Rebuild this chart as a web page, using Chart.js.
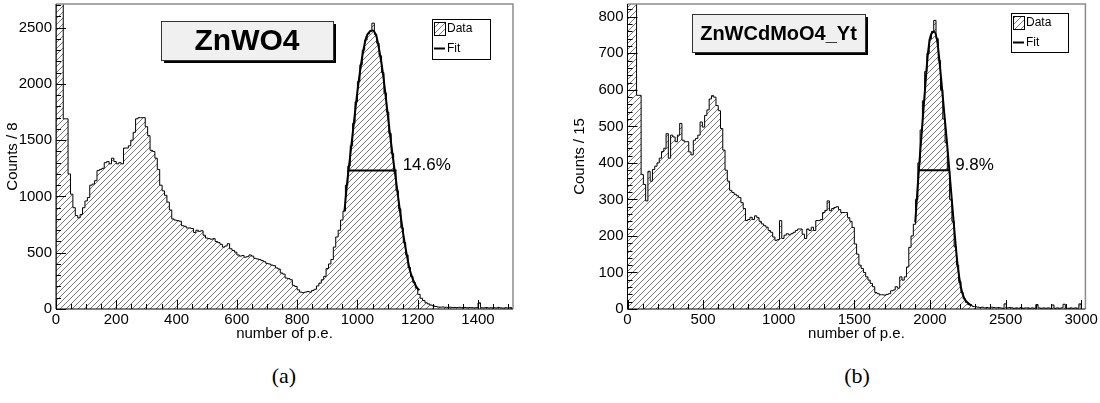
<!DOCTYPE html>
<html>
<head>
<meta charset="utf-8">
<script src="https://cdn.jsdelivr.net/npm/chart.js@4.4.1/dist/chart.umd.min.js"></script>
<style>
  html, body { margin: 0; padding: 0; background: #fff; }
  body { width: 1100px; height: 403px; position: relative; overflow: hidden; }
  canvas { position: absolute; }
  #chartA { left: 0; top: -9px; }
  #chartB { left: 560px; top: -9px; }
  .sub { position: absolute; top: 364px; width: 100px; text-align: center;
         font: 22px "Liberation Serif", "Times New Roman", serif; line-height: 24px; }
</style>
</head>
<body>
<canvas id="chartA" width="540" height="354"></canvas>
<canvas id="chartB" width="540" height="354"></canvas>
<div class="sub" style="left:234px">(a)</div>
<div class="sub" style="left:807px">(b)</div>
<script>
// ZnWO4 : counts per 8 p.e.
const binWidthA = 8;
const countsA = [
  9000, 4500, 3000, 1690, 1690, 1200, 1020, 900, 830, 810,
  840, 900, 960, 990, 1100, 1110, 1140, 1230, 1240, 1250,
  1300, 1310, 1290, 1340, 1310, 1290, 1300, 1290, 1430, 1430,
  1450, 1500, 1570, 1690, 1700, 1700, 1700, 1620, 1540, 1410,
  1400, 1340, 1240, 1100, 1050, 1010, 950, 880, 800, 790,
  785, 780, 740, 735, 720, 720, 715, 680, 700, 690,
  695, 655, 630, 625, 620, 625, 600, 590, 575, 550,
  560, 580, 535, 520, 505, 480, 470, 475, 460, 465,
  480, 470, 450, 445, 440, 430, 420, 405, 400, 390,
  385, 365, 355, 320, 310, 275, 270, 260, 210, 200,
  170, 150, 145, 150, 155, 150, 165, 175, 205, 230,
  260, 290, 360, 400, 440, 550, 640, 700, 790, 870,
  1100, 1270, 1450, 1650, 1840, 2020, 2170, 2300, 2390, 2445,
  2470, 2540, 2440, 2360, 2250, 2100, 1920, 1750, 1560, 1380,
  1220, 1050, 890, 720, 590, 480, 370, 290, 235, 185,
  130, 95, 75, 55, 45, 35, 28, 22, 18, 16,
  18, 15, 14, 16, 12, 14, 13, 15, 12, 14,
  11, 13, 12, 10, 12, 55, 11, 10, 13, 9,
  11, 12, 9, 14, 10, 8, 11, 9, 12
];
const fitXA = [957, 964, 975, 986, 997, 1008, 1019, 1030, 1041, 1050, 1063, 1074, 1085, 1096, 1107, 1118, 1129, 1141, 1152, 1163, 1174, 1185, 1195, 1205];
const fitYA = [870, 1076, 1339, 1602, 1866, 2100, 2290, 2421, 2465, 2474, 2421, 2275, 2085, 1836, 1573, 1339, 1120, 871, 666, 490, 344, 256, 200, 165];
const fwhmXA = [972, 1130];
const fwhmYA = 1231;
const xTicksA = [0, 200, 400, 600, 800, 1000, 1200, 1400];
const yTicksA = [0, 500, 1000, 1500, 2000, 2500];

// ZnWCdMoO4_Yt : counts per 15 p.e.
const binWidthB = 15;
const countsB = [
  2000, 1500, 1100, 900, 585, 585, 368, 341, 296, 377,
  350, 382, 391, 400, 413, 431, 440, 480, 413, 476,
  471, 458, 476, 508, 462, 458, 458, 430, 422, 462,
  467, 476, 512, 498, 530, 545, 575, 584, 580, 557,
  543, 494, 435, 380, 350, 325, 319, 314, 310, 305,
  291, 275, 242, 245, 251, 245, 255, 250, 240, 233,
  228, 224, 215, 210, 197, 188, 190, 242, 193, 202,
  206, 203, 206, 210, 215, 219, 219, 205, 193, 219,
  215, 224, 215, 242, 242, 245, 264, 270, 296, 269,
  275, 278, 280, 272, 264, 264, 264, 250, 240, 223,
  178, 150, 120, 111, 100, 88, 79, 70, 61, 45,
  42, 39, 39, 38, 40, 42, 50, 52, 61, 57,
  88, 79, 88, 115, 169, 200, 232, 300, 400, 490,
  570, 650, 700, 740, 760, 790, 740, 680, 600, 520,
  455, 380, 300, 240, 170, 120, 75, 45, 28, 18,
  12, 10, 7, 6, 5, 4, 5, 3, 4, 3,
  5, 4, 3, 4, 3, 2, 14, 3, 4, 3,
  2, 3, 2, 4, 2, 3, 3, 2, 3, 2,
  12, 3, 2, 3, 2, 3, 2, 11, 2, 3,
  2, 3, 13, 2, 2, 3, 2, 3, 2, 14
];
const fitXB = [1903, 1918, 1934, 1951, 1969, 1987, 2006, 2028, 2050, 2072, 2094, 2116, 2138, 2160, 2182, 2204, 2226, 2259, 2275];
const fitYB = [237, 331, 422, 512, 611, 701, 750, 759, 728, 638, 539, 440, 331, 223, 124, 61, 30, 14, 10];
const fwhmXB = [1925, 2127];
const fwhmYB = 380;
const xTicksB = [0, 500, 1000, 1500, 2000, 2500, 3000];
const yTicksB = [0, 100, 200, 300, 400, 500, 600, 700, 800];

const FONT = '"Liberation Sans", Arial, Helvetica, sans-serif';
Chart.defaults.font.family = FONT;
Chart.defaults.color = '#000';

function makeHatch() {
  const p = 6;
  const c = document.createElement('canvas');
  c.width = p; c.height = p;
  const g = c.getContext('2d');
  g.strokeStyle = '#4a4a4a';
  g.lineWidth = 0.75;
  g.beginPath();
  g.moveTo(0, p); g.lineTo(p, 0);
  g.moveTo(-1, 1); g.lineTo(1, -1);
  g.moveTo(p - 1, p + 1); g.lineTo(p + 1, p - 1);
  g.stroke();
  return g.createPattern(c, 'repeat');
}
const hatch = makeHatch();

function histPoints(counts, w) {
  const pts = [{ x: 0, y: 0 }];
  counts.forEach((c, i) => pts.push({ x: i * w, y: c }));
  pts.push({ x: counts.length * w, y: 0 });
  return pts;
}

function xyPoints(xs, ys) {
  return xs.map((x, i) => ({ x: x, y: ys[i] }));
}

// page-space decorations (ROOT style boxes, legend, ticks)
const decor = {
  chartA: {
    left: 0, top: -9,
    xMajor: 200, xMinor: 50, yMajor: 500, yMinor: 100,
    fwhmX: fwhmXA, fwhmY: fwhmYA, label: '14.6%',
    box: { x: 161, y: 21, w: 172, h: 39, text: 'ZnWO4', font: 'bold 30px ' + FONT },
    legend: { x: 432, y: 19, w: 58, h: 40 }
  },
  chartB: {
    left: 560, top: -9,
    xMajor: 500, xMinor: 100, yMajor: 100, yMinor: 20,
    fwhmX: fwhmXB, fwhmY: fwhmYB, label: '9.8%',
    box: { x: 692, y: 14, w: 173, h: 38, text: 'ZnWCdMoO4_Yt', font: 'bold 20px ' + FONT },
    legend: { x: 1011, y: 13, w: 57, h: 39 }
  }
};

const rootStyle = {
  id: 'rootStyle',
  afterDatasetsDraw(chart) {
    const d = decor[chart.canvas.id];
    const { ctx, chartArea: a, scales: { x, y } } = chart;
    ctx.save();
    // frame
    ctx.strokeStyle = '#8c8c8c';
    ctx.lineWidth = 1.5;
    ctx.beginPath();
    ctx.moveTo(a.left, a.top); ctx.lineTo(a.right, a.top); ctx.lineTo(a.right, a.bottom);
    ctx.stroke();
    ctx.strokeStyle = '#000';
    ctx.lineWidth = 1;
    ctx.beginPath();
    ctx.moveTo(a.left, a.top); ctx.lineTo(a.left, a.bottom); ctx.lineTo(a.right, a.bottom);
    ctx.stroke();
    // inside ticks
    ctx.beginPath();
    const nx = d.xMajor / d.xMinor;
    for (let i = 0; i * d.xMinor <= x.max; i++) {
      const px = Math.round(x.getPixelForValue(i * d.xMinor)) + 0.5;
      const len = i % nx === 0 ? 9 : 5;
      ctx.moveTo(px, a.bottom); ctx.lineTo(px, a.bottom - len);
    }
    const ny = d.yMajor / d.yMinor;
    for (let i = 0; i * d.yMinor <= y.max; i++) {
      const py = Math.round(y.getPixelForValue(i * d.yMinor)) + 0.5;
      const len = i % ny === 0 ? 10 : 5;
      ctx.moveTo(a.left, py); ctx.lineTo(a.left + len, py);
    }
    ctx.stroke();
    // FWHM label
    ctx.font = '17px ' + FONT;
    ctx.fillStyle = '#000';
    ctx.textAlign = 'left';
    ctx.textBaseline = 'middle';
    ctx.fillText(d.label, x.getPixelForValue(d.fwhmX[1]) + 6, y.getPixelForValue(d.fwhmY) - 5);
    ctx.restore();
  },
  afterDraw(chart) {
    const d = decor[chart.canvas.id];
    const ctx = chart.ctx;
    ctx.save();
    ctx.translate(-d.left, -d.top);
    // title box with shadow
    const b = d.box;
    ctx.fillStyle = '#000';
    ctx.fillRect(b.x + 3, b.y + 3, b.w, b.h);
    ctx.fillStyle = '#f0f0f0';
    ctx.fillRect(b.x, b.y, b.w, b.h);
    ctx.strokeStyle = '#333';
    ctx.lineWidth = 1;
    ctx.strokeRect(b.x + 0.5, b.y + 0.5, b.w, b.h);
    ctx.fillStyle = '#000';
    ctx.font = b.font;
    ctx.textAlign = 'center';
    ctx.textBaseline = 'middle';
    ctx.fillText(b.text, b.x + b.w / 2, b.y + b.h / 2 + 1);
    // legend
    const l = d.legend;
    ctx.fillStyle = '#fff';
    ctx.fillRect(l.x, l.y, l.w, l.h);
    ctx.strokeStyle = '#000';
    ctx.strokeRect(l.x + 0.5, l.y + 0.5, l.w, l.h);
    ctx.fillStyle = hatch;
    ctx.fillRect(l.x + 2, l.y + 3, 11, 13);
    ctx.strokeRect(l.x + 2.5, l.y + 3.5, 11, 13);
    ctx.lineWidth = 2;
    ctx.beginPath();
    ctx.moveTo(l.x + 2, l.y + 29.5); ctx.lineTo(l.x + 13, l.y + 29.5);
    ctx.stroke();
    ctx.fillStyle = '#000';
    ctx.font = '12px ' + FONT;
    ctx.textAlign = 'left';
    ctx.fillText('Data', l.x + 15, l.y + 10);
    ctx.fillText('Fit', l.x + 15, l.y + 29.5);
    ctx.restore();
  }
};

function makeChart(id, counts, w, fitX, fitY, fwhmX, fwhmY, xMax, yMax, xTicks, yTicks, yTitle, axisW, yTitlePad, padRight) {
  return new Chart(document.getElementById(id), {
    type: 'line',
    data: {
      datasets: [
        {
          label: 'Fit', order: 0,
          data: xyPoints(fitX, fitY),
          borderColor: '#000', borderWidth: 2, pointRadius: 0,
          cubicInterpolationMode: 'monotone', fill: false
        },
        {
          label: 'FWHM', order: 1,
          data: xyPoints(fwhmX, [fwhmY, fwhmY]),
          borderColor: '#000', borderWidth: 2, pointRadius: 0, fill: false
        },
        {
          label: 'Data', order: 2,
          data: histPoints(counts, w),
          stepped: 'before', fill: 'origin',
          backgroundColor: hatch, borderColor: '#000', borderWidth: 1,
          pointRadius: 0, tension: 0
        }
      ]
    },
    options: {
      responsive: false,
      animation: false,
      events: [],
      layout: { padding: { top: 10, right: padRight, left: 0, bottom: 0 } },
      plugins: { legend: { display: false }, tooltip: { enabled: false } },
      scales: {
        x: {
          type: 'linear', min: 0, max: xMax,
          grid: { display: false, drawTicks: false },
          border: { display: false },
          ticks: { font: { size: 15 }, color: '#000', padding: 2, maxRotation: 0, autoSkip: false,
                   callback: v => String(v) },
          title: { display: true, text: 'number of p.e.', font: { size: 15 }, color: '#000', padding: { top: 0, bottom: 2 } },
          afterBuildTicks: s => { s.ticks = xTicks.map(v => ({ value: v })); },
          afterFit: s => { s.height = 36; }
        },
        y: {
          type: 'linear', min: 0, max: yMax,
          grid: { display: false, drawTicks: false },
          border: { display: false },
          ticks: { font: { size: 15 }, color: '#000', padding: 4, autoSkip: false,
                   callback: v => String(v) },
          title: { display: true, text: yTitle, font: { size: 15 }, color: '#000', padding: { top: yTitlePad, bottom: 0 } },
          afterBuildTicks: s => { s.ticks = yTicks.map(v => ({ value: v })); },
          afterFit: s => { s.width = axisW; }
        }
      }
    },
    plugins: [rootStyle]
  });
}

makeChart('chartA', countsA, binWidthA, fitXA, fitYA, fwhmXA, fwhmYA, 1516, 2710, xTicksA, yTicksA, 'Counts / 8', 56, 4, 27);
makeChart('chartB', countsB, binWidthB, fitXB, fitYB, fwhmXB, fwhmYB, 3028, 835, xTicksB, yTicksB, 'Counts / 15', 67.5, 11, 14);
</script>
</body>
</html>
